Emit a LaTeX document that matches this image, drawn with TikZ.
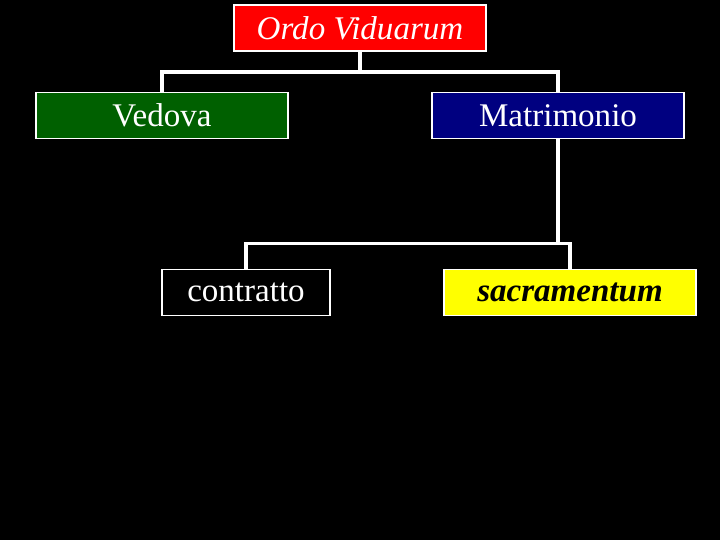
\documentclass[tikz,border=0pt]{standalone}
\usepackage{fontspec}
\setmainfont{Liberation Serif}
\usepackage{tikz}
\usetikzlibrary{positioning, calc}

\definecolor{ordored}{HTML}{FF0000}
\definecolor{vedgreen}{HTML}{006000}
\definecolor{matblue}{HTML}{000080}
\definecolor{sacyellow}{HTML}{FFFF00}

\begin{document}
\begin{tikzpicture}[
    x=0.025cm, y=-0.025cm,
    box/.style={draw=white, line width=1.4pt, minimum width=6.3cm, minimum height=1.15cm, inner sep=0pt, align=center, text=white, font=\fontsize{23.5}{28}\selectfont},
    link/.style={draw=white, line width=2.8pt},
]
    % Sfondo
    \fill[black] (0,0) rectangle (720,540);
    \useasboundingbox (0,0) rectangle (720,540);

    \node[box, fill=ordored] (ordo) at (360, 28) {\itshape Ordo Viduarum};
    \node[box, fill=vedgreen] (vedova) at (162, 115.5) {Vedova};
    \node[box, fill=matblue] (matr) at (558, 115.5) {Matrimonio};
    \node[box, fill=black, minimum width=4.2cm] (contr) at (246, 292.5) {contratto};
    \node[box, fill=sacyellow, text=black] (sacr) at (570, 292.5) {\bfseries\itshape sacramentum};

    % Diramazioni
    \coordinate (fork1) at (360, 72);
    \coordinate (fork2) at (558, 243.5);
    \draw[link] (ordo.south) -- (fork1);
    \draw[link] (vedova.north) |- (fork1) -| (matr.north);
    \draw[link] (matr.south) -- (fork2);
    \draw[link] (contr.north) |- (fork2) -| (sacr.north);
\end{tikzpicture}
\end{document}
